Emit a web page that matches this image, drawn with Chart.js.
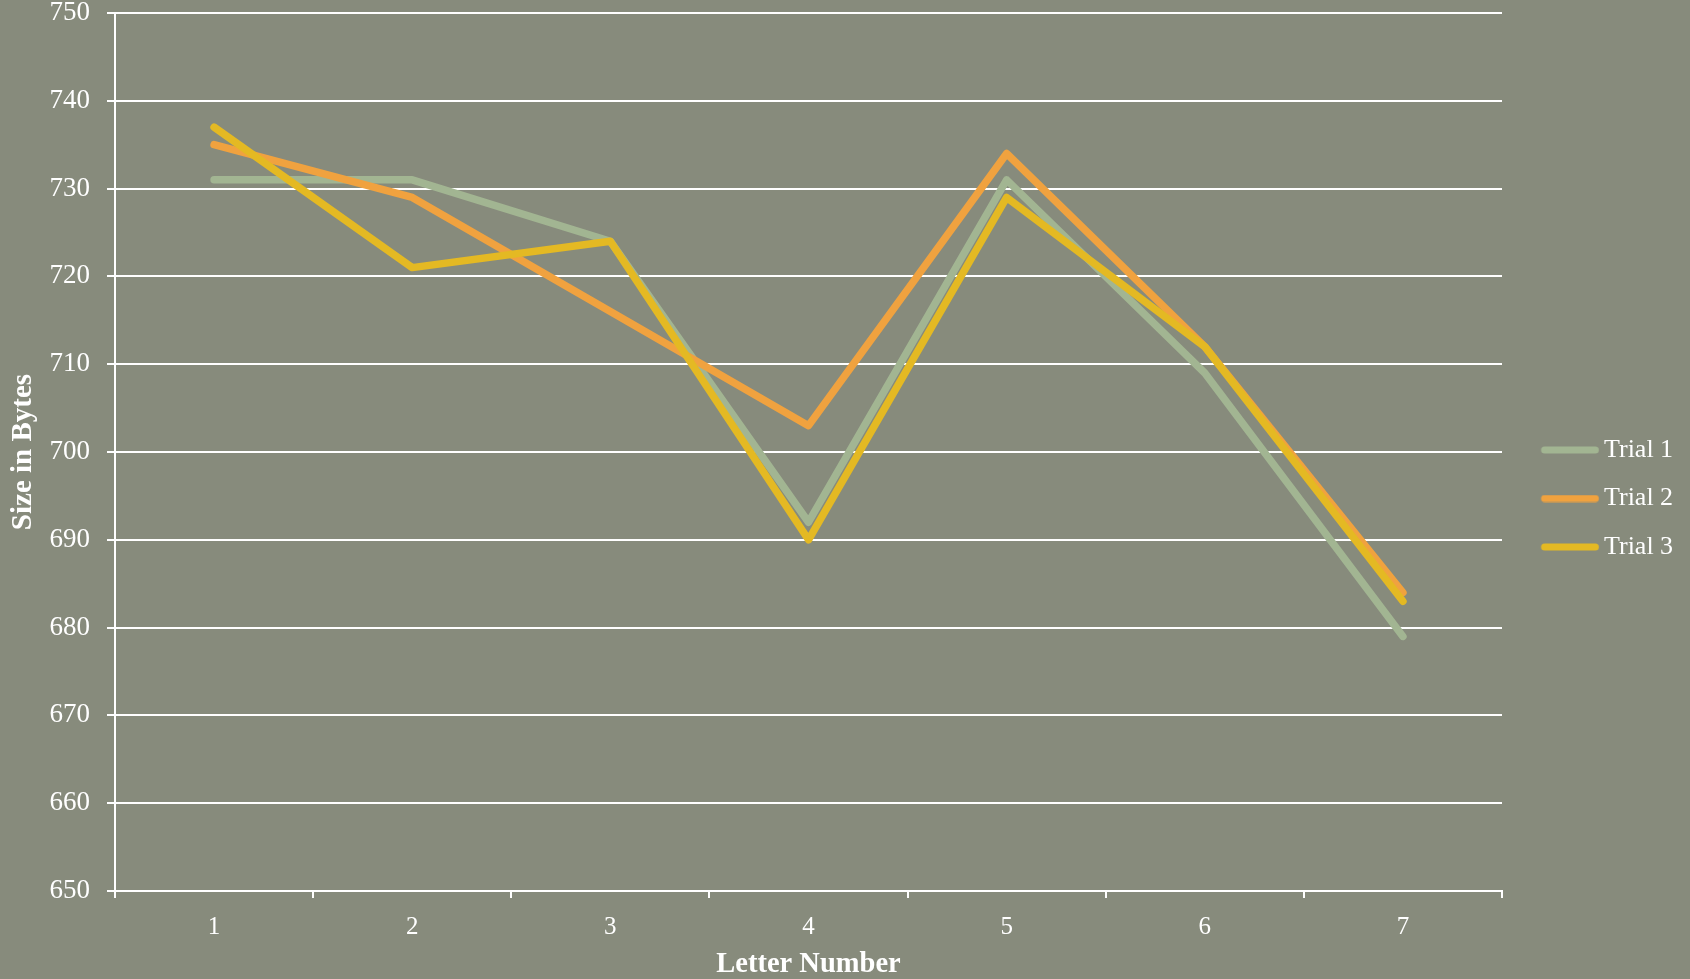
<!DOCTYPE html>
<html>
<head>
<meta charset="utf-8">
<title>Size in Bytes by Letter Number</title>
<script src="https://cdn.jsdelivr.net/npm/chart.js@4.4.1/dist/chart.umd.min.js"></script>
<style>
  html, body { margin: 0; padding: 0; background: #878b7c; }
  canvas { display: block; }
</style>
</head>
<body>
<canvas id="chart" width="1690" height="979"></canvas>
<script>
// Category labels along the x axis
const letterNumbers = ['1', '2', '3', '4', '5', '6', '7'];

// Measured file sizes (bytes) for each trial
const trial1 = [731, 731, 724, 692, 731, 709, 679];
const trial2 = [735, 729, 716, 703, 734, 712, 684];
const trial3 = [737, 721, 724, 690, 729, 712, 683];

const seriesNames = ['Trial 1', 'Trial 2', 'Trial 3'];
const seriesValues = [trial1, trial2, trial3];
const seriesColors = ['#a2b592', '#f0a23f', '#e4b923'];

// Value axis range and tick step
const yMin = 650;
const yMax = 750;
const yStep = 10;

const FONT = '"Liberation Serif", "Times New Roman", serif';
const WHITE = '#ffffff';
const LINE_WIDTH = 7.5;

// Legend swatch: short thick line with round caps, sitting at the right of its box
function makeSwatch(color) {
  const c = document.createElement('canvas');
  c.width = 84;
  c.height = 8;
  const g = c.getContext('2d');
  g.strokeStyle = color;
  g.lineWidth = 7;
  g.lineCap = 'round';
  g.beginPath();
  g.moveTo(28.8, 4);
  g.lineTo(79.6, 4);
  g.stroke();
  return c;
}
const swatches = seriesColors.map(makeSwatch);

const datasets = seriesValues.map((values, i) => ({
  label: seriesNames[i],
  data: values,
  borderColor: seriesColors[i],
  backgroundColor: seriesColors[i],
  borderWidth: LINE_WIDTH,
  borderCapStyle: 'round',
  borderJoinStyle: 'round',
  pointRadius: 0,
  pointHoverRadius: 0,
  tension: 0,
  fill: false,
  order: seriesValues.length - i   // later trials drawn on top
}));

new Chart(document.getElementById('chart'), {
  type: 'line',
  data: { labels: letterNumbers, datasets },
  options: {
    responsive: false,
    animation: false,
    devicePixelRatio: 1,
    layout: { padding: 0 },
    plugins: {
      tooltip: { enabled: false },
      legend: {
        position: 'right',
        align: 'center',
        title: { display: true, text: '', padding: 0, font: { size: 15, lineHeight: 1.2 } },
        labels: {
          color: WHITE,
          font: { family: FONT, size: 26 },
          padding: 22.5,
          usePointStyle: true,
          pointStyleWidth: 66.5,
          boxHeight: 8,
          generateLabels(chart) {
            return chart.data.datasets.map((ds, i) => ({
              text: ds.label,
              fillStyle: ds.borderColor,
              strokeStyle: ds.borderColor,
              lineWidth: 0,
              pointStyle: swatches[i],
              hidden: false,
              datasetIndex: i,
              fontColor: WHITE
            }));
          }
        }
      }
    },
    scales: {
      x: {
        type: 'category',
        offset: true,
        grid: {
          display: true,
          offset: true,
          drawOnChartArea: false,
          drawTicks: true,
          tickLength: 7,
          tickWidth: 2,
          tickColor: WHITE,
          color: WHITE,
          lineWidth: 2
        },
        border: { display: true, color: WHITE, width: 2 },
        ticks: {
          color: WHITE,
          font: { family: FONT, size: 25 },
          padding: 14,
          maxRotation: 0,
          autoSkip: false
        },
        title: {
          display: true,
          text: 'Letter Number',
          color: WHITE,
          font: { family: FONT, size: 28.5, weight: 'bold', lineHeight: 1 },
          padding: { top: 0, bottom: 0 }
        },
        afterFit(scale) {
          scale.height = 88;
          scale.paddingRight = 188;
        }
      },
      y: {
        min: yMin,
        max: yMax,
        ticks: {
          stepSize: yStep,
          color: WHITE,
          font: { family: FONT, size: 27 },
          padding: 17
        },
        grid: {
          color: WHITE,
          lineWidth: 2,
          tickLength: 8,
          drawTicks: true
        },
        border: { display: true, color: WHITE, width: 2 },
        title: {
          display: true,
          text: 'Size in Bytes',
          color: WHITE,
          font: { family: FONT, size: 29, weight: 'bold', lineHeight: 1 },
          padding: { top: 9.5, bottom: 0 }
        },
        afterFit(scale) {
          scale.width = 115;
          scale.paddingTop = 13;
          scale.paddingBottom = 13;
        }
      }
    }
  }
});
</script>
</body>
</html>
